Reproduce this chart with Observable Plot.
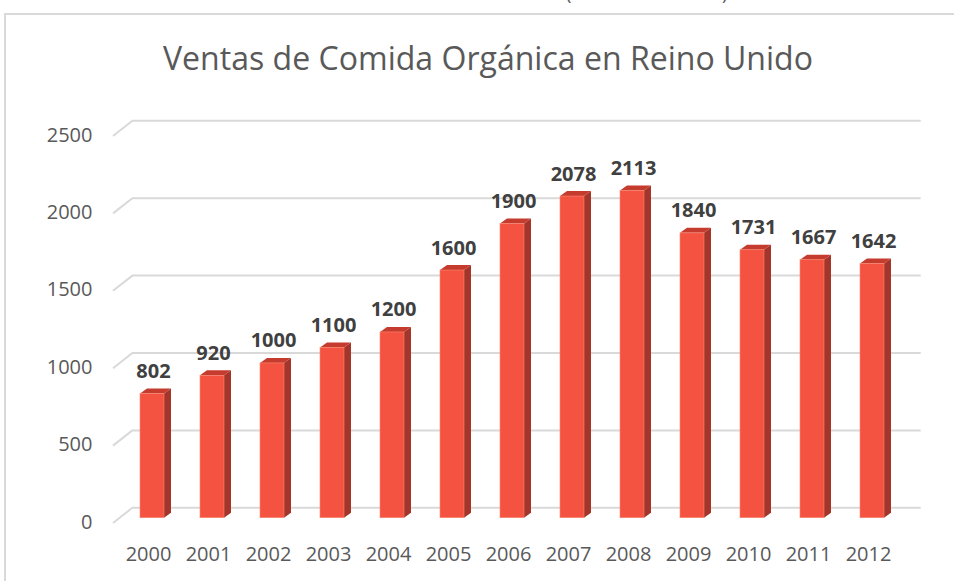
<!DOCTYPE html>
<html><head><meta charset="utf-8">
<script src="https://cdn.jsdelivr.net/npm/d3@7"></script>
<script src="https://cdn.jsdelivr.net/npm/@observablehq/plot@0.6"></script>
<style>
html,body{margin:0;padding:0;background:#fff;}
#wrap{position:relative;width:954px;height:581px;overflow:hidden;font-family:"Open Sans",sans-serif;}
#frame{position:absolute;left:4px;top:13px;width:1000px;height:1000px;border-left:2px solid #d9d9d9;border-top:2px solid #d9d9d9;}
#title{position:absolute;left:0;width:976px;top:36px;text-align:center;color:#595959;font-size:30px;white-space:nowrap;}
#chart{position:absolute;left:0;top:0;}
#above{position:absolute;left:0;top:0;width:954px;height:6px;overflow:hidden;}
#above span{position:absolute;left:566px;top:-20px;font-size:18.4px;color:#595959;white-space:nowrap;}
</style></head>
<body>
<div id="wrap">
  <div id="above"><span>(millones de libras)</span></div>
  <div id="frame"></div>
  <div id="chart"></div>
  <div id="title"></div>
</div>
<script>
const titleText = "Ventas de Comida Orgánica en Reino Unido";
const years = ["2000","2001","2002","2003","2004","2005","2006","2007","2008","2009","2010","2011","2012"];
const sales = [802, 920, 1000, 1100, 1200, 1600, 1900, 2078, 2113, 1840, 1731, 1667, 1642];
const yTicks = [0, 500, 1000, 1500, 2000, 2500];

const data = years.map((year, i) => ({year, value: sales[i]}));

const FRONT = "#f55342", SIDE = "#a3352a", TOP = "#c53b2d";
const DX = 7, DY = -5;          // bar depth
const GX = 20, GY = -15.7;      // floor depth (front edge to back wall)

document.getElementById("title").textContent = titleText;

function diagonals(index, scales, values, dimensions) {
  const y = scales.y;
  const g = d3.create("svg:g").attr("stroke", "#d9d9d9").attr("stroke-width", 2).attr("fill", "none");
  const xb = dimensions.marginLeft;
  for (const t of yTicks) {
    const yb = y(t) - 10.4;
    g.append("line").attr("x1", xb - GX).attr("y1", yb - GY).attr("x2", xb).attr("y2", yb);
  }
  return g.node();
}

function bars3d(index, scales, values, dimensions) {
  const x = scales.x, y = scales.y;
  const bw = x.bandwidth();
  const g = d3.create("svg:g");
  data.forEach(d => {
    const xl = x(d.year), xr = xl + bw, y0 = y(0), yt = y(d.value);
    g.append("polygon").attr("fill", SIDE)
      .attr("points", [[xr, y0], [xr, yt], [xr + DX, yt + DY], [xr + DX, y0 + DY]].join(" "));
    g.append("polygon").attr("fill", TOP)
      .attr("points", [[xl, yt], [xr, yt], [xr + DX, yt + DY], [xl + DX, yt + DY]].join(" "));
  });
  return g.node();
}

const plot = Plot.plot({
  width: 954,
  height: 581,
  marginLeft: 133,
  marginRight: 33.3,
  marginTop: 100,
  marginBottom: 60,
  x: {type: "band", domain: years, range: [119.25, 905.75], paddingInner: 0.595, paddingOuter: 0.2975, axis: null},
  y: {type: "linear", domain: [0, 2500], range: [517.7, 130.7], axis: null},
  marks: [
    Plot.ruleY(yTicks, {y: d => d, dy: -10.4, stroke: "#d9d9d9", strokeWidth: 2, strokeOpacity: 1}),
    diagonals,
    bars3d,
    Plot.barY(data, {x: "year", y: "value", fill: FRONT, stroke: "#f7876f", strokeWidth: 0.6}),
    Plot.text(data, {x: "year", y: "value", text: d => String(d.value), dy: -16, dx: 1, lineAnchor: "bottom",
      fontFamily: "Open Sans", fontSize: 20, fontWeight: "bold", fill: "#404040"}),
    Plot.text(yTicks, {y: d => d, text: d => String(d), frameAnchor: "left", textAnchor: "end", dx: -41, dy: 4,
      fontFamily: "Open Sans", fontSize: 20, fill: "#595959"}),
    Plot.text(data, {x: "year", y: () => 0, text: "year", dx: -4, dy: 36, lineAnchor: "middle",
      fontFamily: "Open Sans", fontSize: 20, fill: "#595959"})
  ]
});
plot.style.background = "transparent";
document.getElementById("chart").appendChild(plot);

// fit title to reference width
const t = document.getElementById("title");
const span = document.createElement("span");
span.textContent = titleText; span.style.font = "30px 'Open Sans'"; span.style.position = "absolute"; span.style.visibility = "hidden";
document.body.appendChild(span);
const w = span.getBoundingClientRect().width;
span.remove();
t.style.fontSize = (30 * 650 / w).toFixed(2) + "px";
</script>
</body></html>
